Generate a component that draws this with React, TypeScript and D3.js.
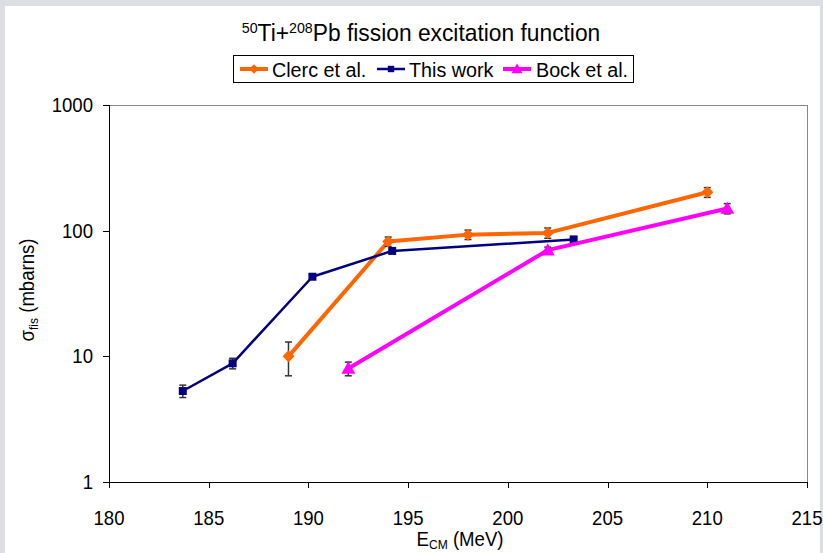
import React from "react";
import * as d3 from "d3";

const W = 823;
const H = 553;

const xTicks = [180, 185, 190, 195, 200, 205, 210, 215];
const yTicks = [1, 10, 100, 1000];

const clercE = [189, 194, 198, 202, 210];
const clercS = [10, 82, 93, 96, 202];
const clercErr = [3, 7, 8, 9, 18];

const thisE = [183.7, 186.2, 190.2, 194.2, 203.3];
const thisS = [5.3, 8.8, 43, 69, 85];
const thisErr = [0.6, 0.85, 0, 0, 5];

const bockE = [192, 202, 211];
const bockS = [8, 70, 150];
const bockErr = [1, 4, 14];

const seriesNames = ["Clerc et al.", "This work", "Bock et al."];

const FONT = "'Liberation Sans', Arial, sans-serif";

type Pt = { e: number; s: number; err: number };

function zip(e: number[], s: number[], err: number[]): Pt[] {
  return e.map((v, i) => ({ e: v, s: s[i], err: err[i] }));
}

function T(props: { x: number; y: number; size: number; sx?: number; anchor?: string; rotate?: number; children: React.ReactNode }) {
  const { x, y, size, sx = 0.93, anchor = "start", rotate = 0, children } = props;
  return (
    <g transform={`translate(${x},${y}) rotate(${rotate}) scale(${sx},1)`}>
      <text x={0} y={0} fontSize={size} textAnchor={anchor} fill="#000">
        {children}
      </text>
    </g>
  );
}

export default function App() {
  const left = 109, right = 807, top = 105, bottom = 482;
  const x = d3.scaleLinear().domain([180, 215]).range([left, right]);
  const y = d3.scaleLog().domain([1, 1000]).range([bottom, top]);
  const line = d3
    .line<Pt>()
    .x((d) => x(d.e))
    .y((d) => y(d.s));

  const series = [
    { name: seriesNames[0], pts: zip(clercE, clercS, clercErr), color: "#ff6600", width: 4, marker: "diamond" },
    { name: seriesNames[1], pts: zip(thisE, thisS, thisErr), color: "#000080", width: 2.5, marker: "square" },
    { name: seriesNames[2], pts: zip(bockE, bockS, bockErr), color: "#ff00ff", width: 4, marker: "triangle" },
  ];

  const marker = (m: string, cx: number, cy: number, color: string, scale = 1) => {
    if (m === "diamond") {
      const r = 6 * scale;
      return <path d={`M${cx},${cy - r}L${cx + r},${cy}L${cx},${cy + r}L${cx - r},${cy}Z`} fill={color} />;
    }
    if (m === "square") {
      const r = 4 * scale;
      return <rect x={cx - r} y={cy - r} width={2 * r} height={2 * r} fill={color} />;
    }
    const r = 7 * scale;
    return <path d={`M${cx},${cy - r}L${cx + r},${cy + r * 0.75}L${cx - r},${cy + r * 0.75}Z`} fill={color} />;
  };

  const legendItems = [
    { x: 240, tx: 272 },
    { x: 377, tx: 409 },
    { x: 503, tx: 536 },
  ];

  return (
    <svg width={W} height={H} style={{ position: "absolute", left: 0, top: 0 }} fontFamily={FONT}>
      <rect x={0} y={0} width={W} height={H} fill="#dcdee1" />
      <rect x={5} y={6} width={815} height={H - 6} fill="#ffffff" />

      {/* title */}
      <T x={421} y={41} size={24} sx={0.95} anchor="middle">
        <tspan fontSize={15} dy={-8}>50</tspan>
        <tspan dy={8}>Ti+</tspan>
        <tspan fontSize={15} dy={-8}>208</tspan>
        <tspan dy={8}>Pb fission excitation function</tspan>
      </T>

      {/* legend */}
      <rect x={233.5} y={55.5} width={400} height={27} fill="#fff" stroke="#000" strokeWidth={1} />
      {series.map((s, i) => (
        <g key={s.name}>
          <line x1={legendItems[i].x} x2={legendItems[i].x + 28} y1={69} y2={69} stroke={s.color} strokeWidth={s.width} />
          {marker(s.marker, legendItems[i].x + 14, 69, s.color, 0.8)}
          <T x={legendItems[i].tx} y={76.5} size={21} sx={0.94}>
            {s.name}
          </T>
        </g>
      ))}

      {/* plot frame */}
      <line x1={left} x2={right} y1={top + 0.5} y2={top + 0.5} stroke="#888" />
      <line x1={right + 0.5} x2={right + 0.5} y1={top} y2={bottom} stroke="#888" />
      <line x1={left + 0.5} x2={left + 0.5} y1={top} y2={bottom} stroke="#000" />
      <line x1={left} x2={right + 1} y1={bottom + 0.5} y2={bottom + 0.5} stroke="#000" />

      {yTicks.map((t) => (
        <g key={"y" + t}>
          <line x1={left - 6} x2={left} y1={Math.round(y(t)) + 0.5} y2={Math.round(y(t)) + 0.5} stroke="#000" />
          <T x={left - 16} y={y(t) + 7} size={20} anchor="end">
            {t}
          </T>
        </g>
      ))}
      {xTicks.map((t) => (
        <g key={"x" + t}>
          <line x1={Math.round(x(t)) + 0.5} x2={Math.round(x(t)) + 0.5} y1={bottom} y2={bottom + 6} stroke="#000" />
          <T x={x(t)} y={bottom + 43} size={20} anchor="middle">
            {t}
          </T>
        </g>
      ))}

      {/* axis titles */}
      <T x={460} y={546} size={20} anchor="middle">
        <tspan>E</tspan>
        <tspan fontSize={13} dy={3}>CM</tspan>
        <tspan dy={-3}> (MeV)</tspan>
      </T>
      <T x={34} y={290} size={20} anchor="middle" rotate={-90}>
        <tspan>σ</tspan>
        <tspan fontSize={13} dy={4}>fis</tspan>
        <tspan dy={-4}> (mbarns)</tspan>
      </T>

      {/* series */}
      {series.map((s) => (
        <g key={"s" + s.name}>
          <path d={line(s.pts) || ""} fill="none" stroke={s.color} strokeWidth={s.width} strokeLinejoin="round" />
          {s.pts.map((p, i) =>
            p.err > 0 ? (
              <g key={i} stroke="#333" strokeWidth={1.5}>
                <line x1={x(p.e)} x2={x(p.e)} y1={y(p.s + p.err)} y2={y(p.s - p.err)} />
                <line x1={x(p.e) - 3.5} x2={x(p.e) + 3.5} y1={y(p.s + p.err)} y2={y(p.s + p.err)} />
                <line x1={x(p.e) - 3.5} x2={x(p.e) + 3.5} y1={y(p.s - p.err)} y2={y(p.s - p.err)} />
              </g>
            ) : null
          )}
          {s.pts.map((p, i) => (
            <g key={"m" + i}>{marker(s.marker, x(p.e), y(p.s), s.color)}</g>
          ))}
        </g>
      ))}
    </svg>
  );
}
